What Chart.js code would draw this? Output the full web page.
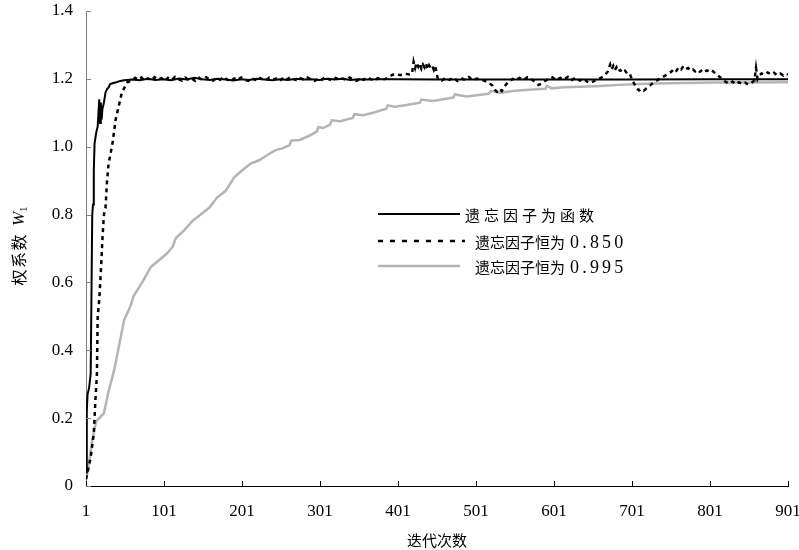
<!DOCTYPE html>
<html>
<head>
<meta charset="utf-8">
<script src="https://cdn.jsdelivr.net/npm/chart.js@4.4.1/dist/chart.umd.min.js"></script>
<style>
  html, body { margin: 0; padding: 0; background: #fff; }
</style>
</head>
<body>
<canvas id="weightChart" width="799" height="550"></canvas>
<script>
// axis ticks
const xTicks = [1, 101, 201, 301, 401, 501, 601, 701, 801, 901];
const xTickLabels = ['1', '101', '201', '301', '401', '501', '601', '701', '801', '901'];
const yTicks = [0, 0.2, 0.4, 0.6, 0.8, 1.0, 1.2, 1.4];
const yTickLabels = ['0', '0.2', '0.4', '0.6', '0.8', '1.0', '1.2', '1.4'];
const xTitle = '迭代次数';
const seriesNames = ['遗忘因子为函数', '遗忘因子恒为 0.850', '遗忘因子恒为 0.995'];

// forgetting factor as a function
const funcIter = [1, 2, 3, 5, 7, 9, 10, 11, 12, 14, 16, 17, 18, 19, 20, 21, 22, 24, 26, 28, 30, 32, 36, 40, 45, 50,
  60, 70, 80, 90, 100, 110, 120, 130, 140, 150, 160, 170, 180, 190, 200, 210, 220, 230, 240, 250, 260, 270, 280,
  290, 300, 310, 320, 330, 340, 350, 360, 380, 400, 450, 500, 600, 700, 800, 901];
const funcW = [0.04, 0.22, 0.27, 0.29, 0.33, 0.80, 0.83, 0.93, 1.01, 1.04, 1.06, 1.10, 1.14, 1.07, 1.13, 1.08, 1.11, 1.13, 1.16, 1.17, 1.175, 1.185, 1.188, 1.19, 1.194, 1.196,
  1.198, 1.196, 1.2, 1.197, 1.199, 1.196, 1.201, 1.198, 1.203, 1.199, 1.197, 1.2, 1.198, 1.195, 1.199, 1.197, 1.2, 1.198, 1.196, 1.199, 1.197, 1.2, 1.198,
  1.199, 1.197, 1.2, 1.198, 1.2, 1.197, 1.199, 1.198, 1.199, 1.199, 1.198, 1.198, 1.198, 1.198, 1.199, 1.199];

// forgetting factor fixed at 0.850
const fixed850Iter = [1, 3, 7, 11, 13, 15, 16, 18, 20, 22, 24, 26, 28, 30, 35, 39, 43, 47, 54, 60,
  64, 68, 72, 76, 80, 85, 89, 93, 98, 102, 106, 111, 115, 119, 124, 128, 132, 137, 141, 146, 150, 155,
  159, 164, 168, 173, 177, 182, 186, 191, 195, 200, 204, 209, 213, 218, 222, 227, 231, 236, 240, 245,
  249, 254, 258, 263, 267, 272, 276, 281, 285, 290, 294, 299, 303, 308, 312, 317, 321, 326, 330, 335,
  339, 344, 348, 353, 357, 362, 366, 371, 375, 380, 385, 390, 394, 398, 404, 410, 416, 419,
  421, 423, 425, 427, 429, 431, 433, 435, 437, 439, 441, 443, 445, 447, 449,
  452, 457, 462, 467, 472, 477, 482, 487, 492, 497, 502, 507, 512, 517, 522, 525, 528, 531, 534, 537,
  540, 544, 548, 552, 557, 562, 567, 572, 577, 581, 585, 589, 594, 599, 604, 609, 614, 619, 624, 629,
  634, 639, 644, 648, 652, 656, 661, 666, 670, 673, 675, 677, 679, 681, 683, 686, 689, 692, 695, 698,
  701, 704, 707, 710, 713, 716, 720, 724, 728, 732, 736, 740, 744, 748, 752, 755, 758, 761, 764, 767,
  770, 773, 776, 779, 782, 785, 788, 791, 794, 797, 800, 803, 806, 810, 814, 818, 822, 826, 830, 834,
  838, 842, 846, 850, 854, 858, 860, 862, 864, 867, 871, 875, 879, 883, 887, 891, 895, 898, 901];
const fixed850W = [0.02, 0.04, 0.085, 0.155, 0.25, 0.33, 0.50, 0.55, 0.63, 0.725, 0.80, 0.82, 0.90, 0.95, 1.01, 1.08, 1.12, 1.16, 1.19, 1.196,
  1.203, 1.197, 1.204, 1.195, 1.201, 1.196, 1.205, 1.198, 1.202, 1.194, 1.203, 1.197, 1.206, 1.199, 1.195, 1.204, 1.198, 1.201, 1.194, 1.203, 1.197, 1.205,
  1.199, 1.195, 1.202, 1.197, 1.206, 1.198, 1.193, 1.201, 1.196, 1.204, 1.198, 1.194, 1.202, 1.197, 1.205, 1.199, 1.195, 1.203, 1.198, 1.201,
  1.194, 1.203, 1.197, 1.205, 1.199, 1.195, 1.202, 1.197, 1.204, 1.198, 1.194, 1.201, 1.197, 1.206, 1.199, 1.195, 1.203, 1.198, 1.201, 1.196,
  1.204, 1.198, 1.194, 1.202, 1.197, 1.205, 1.199, 1.195, 1.202, 1.198, 1.2, 1.206, 1.212, 1.214, 1.211, 1.215, 1.213, 1.216,
  1.25, 1.232, 1.248, 1.236, 1.246, 1.23, 1.242, 1.234, 1.245, 1.228, 1.24, 1.232, 1.238, 1.226, 1.236,
  1.2, 1.195, 1.203, 1.197, 1.204, 1.194, 1.202, 1.197, 1.205, 1.196, 1.201, 1.197, 1.194, 1.19, 1.18, 1.168, 1.162, 1.17, 1.164, 1.176,
  1.185, 1.192, 1.2, 1.196, 1.203, 1.197, 1.205, 1.199, 1.19, 1.182, 1.186, 1.193, 1.2, 1.204, 1.196, 1.203, 1.198, 1.206, 1.197, 1.204,
  1.195, 1.2, 1.191, 1.188, 1.193, 1.198, 1.203, 1.21, 1.222, 1.242, 1.228, 1.238, 1.226, 1.234, 1.222, 1.226, 1.218, 1.224, 1.215, 1.216,
  1.198, 1.185, 1.172, 1.166, 1.17, 1.165, 1.173, 1.18, 1.188, 1.194, 1.2, 1.205, 1.21, 1.216, 1.222, 1.23, 1.224, 1.234, 1.228, 1.237,
  1.229, 1.232, 1.225, 1.228, 1.222, 1.227, 1.221, 1.226, 1.22, 1.225, 1.222, 1.226, 1.22, 1.212, 1.205, 1.196, 1.19, 1.186, 1.192, 1.184,
  1.19, 1.185, 1.189, 1.183, 1.188, 1.195, 1.232, 1.2, 1.21, 1.216, 1.212, 1.219, 1.213, 1.218, 1.211, 1.216, 1.21, 1.215, 1.213];

// forgetting factor fixed at 0.995 (small teeth at the steps)
const fixed995Iter = [1, 3, 5, 9, 14, 18, 24, 30, 37, 43, 50, 52, 58, 62, 73, 84, 95, 105, 112, 116, 127, 137, 148, 159, 169,
  180, 191, 201, 212, 223, 233, 244, 253, 262, 264, 275, 288, 297, 299, 305, 314, 316, 327, 343, 345, 356, 369, 386, 388, 397, 412, 429, 431,
  446, 459, 472, 474, 489, 502, 517, 520, 532, 548, 565, 583, 590, 592, 598, 613, 635, 660, 690, 728, 770, 805, 850, 901];
const fixed995W = [0.02, 0.04, 0.07, 0.135, 0.19, 0.20, 0.215, 0.28, 0.34, 0.41, 0.49, 0.50, 0.53, 0.56, 0.60, 0.645, 0.666, 0.686, 0.705, 0.73, 0.754, 0.78, 0.80, 0.82, 0.85,
  0.87, 0.91, 0.93, 0.95, 0.96, 0.975, 0.99, 0.995, 1.005, 1.018, 1.02, 1.033, 1.045, 1.058, 1.055, 1.065, 1.078, 1.075, 1.085, 1.096, 1.093, 1.10, 1.112, 1.122, 1.118, 1.123, 1.13, 1.139,
  1.135, 1.14, 1.145, 1.154, 1.148, 1.152, 1.156, 1.164, 1.159, 1.164, 1.167, 1.17, 1.171, 1.18, 1.172, 1.175, 1.177, 1.179, 1.183, 1.186, 1.188, 1.189, 1.189, 1.19];

function toPoints(xs, ys) {
    return xs.map((v, i) => ({ x: v, y: ys[i] }));
}

const serifFont = '"Liberation Serif", serif';
const cjkFont = '"Noto Sans CJK SC", sans-serif';

const datasets = [
    { label: seriesNames[0], data: toPoints(funcIter, funcW), borderColor: '#000', borderWidth: 2 },
    { label: seriesNames[1], data: toPoints(fixed850Iter, fixed850W), borderColor: '#000', borderWidth: 2.5, borderDash: [4, 4] },
    { label: seriesNames[2], data: toPoints(fixed995Iter, fixed995W), borderColor: '#b4b4b4', borderWidth: 2.5 }
];

// draws text one char at a time with a fixed extra gap, returns the width used
function spacedText(ctx, text, x, y, gap) {
    let cx = x;
    for (const ch of text) {
        ctx.fillText(ch, cx, y);
        cx += ctx.measureText(ch).width + gap;
    }
    return cx - x;
}

// tick marks, axis titles and the legend box inside the plot
const decorPlugin = {
    id: 'decor',
    afterDraw(chart) {
        const { ctx, chartArea: area } = chart;
        const xs = chart.scales.x, ys = chart.scales.y;
        ctx.save();
        ctx.lineWidth = 1;
        ctx.strokeStyle = '#7f7f7f';
        yTicks.forEach(v => {
            const py = Math.round(ys.getPixelForValue(v)) + 0.5;
            ctx.beginPath(); ctx.moveTo(area.left, py); ctx.lineTo(area.left + 5, py); ctx.stroke();
        });
        ctx.strokeStyle = '#000';
        xTicks.forEach(v => {
            const px = Math.round(xs.getPixelForValue(v)) + 0.5;
            ctx.beginPath(); ctx.moveTo(px, area.bottom); ctx.lineTo(px, area.bottom - 5); ctx.stroke();
        });

        ctx.fillStyle = '#000';
        ctx.textBaseline = 'middle';

        // x title
        ctx.font = '15px ' + cjkFont;
        ctx.textAlign = 'center';
        ctx.fillText(xTitle, (area.left + area.right) / 2, 540);

        // y title: 权系数 W1
        ctx.save();
        ctx.translate(19, 246);
        ctx.rotate(-Math.PI / 2);
        ctx.textAlign = 'left';
        ctx.font = '16px ' + cjkFont;
        const wA = 3 * (ctx.measureText('权').width + 1.5);
        ctx.font = 'italic 17px ' + serifFont;
        const wB = ctx.measureText('W').width;
        ctx.font = '11px ' + serifFont;
        const wC = ctx.measureText('1').width;
        const gapW = 7;
        let sx = -(wA + gapW + wB + wC) / 2;
        ctx.font = '16px ' + cjkFont;
        spacedText(ctx, '权系数', sx, 0, 1.5);
        sx += wA + gapW;
        ctx.font = 'italic 17px ' + serifFont;
        ctx.fillText('W', sx, 1);
        sx += wB;
        ctx.font = '11px ' + serifFont;
        ctx.fillText('1', sx, 5);
        ctx.restore();

        // legend
        const rows = [
            { y: 214, x0: 378, x1: 460, tx: 465, gap: 4, ds: datasets[0] },
            { y: 241, x0: 378, x1: 465, tx: 475, gap: 0, ds: datasets[1] },
            { y: 266, x0: 378, x1: 460, tx: 475, gap: 0, ds: datasets[2] }
        ];
        rows.forEach((r, i) => {
            ctx.beginPath();
            ctx.strokeStyle = r.ds.borderColor;
            ctx.lineWidth = i === 0 ? 2 : 2.5;
            ctx.setLineDash(r.ds.borderDash ? [5, 7] : []);
            ctx.moveTo(r.x0, r.y); ctx.lineTo(r.x1, r.y); ctx.stroke();
            ctx.setLineDash([]);
            const name = seriesNames[i];
            const sp = name.indexOf(' ');
            ctx.textAlign = 'left';
            if (sp < 0) {
                ctx.font = '15px ' + cjkFont;
                spacedText(ctx, name, r.tx, r.y + 1, r.gap);
            } else {
                const cn = name.slice(0, sp);
                const num = name.slice(sp + 1);
                ctx.font = '15px ' + cjkFont;
                const w = spacedText(ctx, cn, r.tx, r.y + 1, r.gap);
                ctx.font = '18px ' + serifFont;
                spacedText(ctx, num, r.tx + w + 5, r.y + 2, 3.2);
            }
        });
        ctx.restore();
    }
};

const ctx = document.getElementById('weightChart').getContext('2d');
const weightChart = new Chart(ctx, {
    type: 'line',
    data: { datasets: datasets },
    options: {
        responsive: false,
        animation: false,
        layout: { padding: { top: 11, right: 11, left: 0, bottom: 0 } },
        elements: { point: { radius: 0 }, line: { tension: 0 } },
        plugins: { legend: { display: false }, tooltip: { enabled: false } },
        scales: {
            x: {
                type: 'linear',
                min: 1,
                max: 901,
                afterBuildTicks: s => { s.ticks = xTicks.map(v => ({ value: v })); },
                afterFit: s => { s.height = 64; s.paddingLeft = 0; s.paddingRight = 0; },
                grid: { display: false, drawTicks: false },
                border: { display: true, color: '#000', width: 1 },
                ticks: {
                    padding: 15,
                    maxRotation: 0,
                    color: '#000',
                    font: { family: serifFont, size: 17 },
                    callback: (v, i) => xTickLabels[i]
                }
            },
            y: {
                min: 0,
                max: 1.4,
                afterBuildTicks: s => { s.ticks = yTicks.map(v => ({ value: v })); },
                afterFit: s => { s.width = 86; s.paddingTop = 0; s.paddingBottom = 0; },
                grid: { display: false, drawTicks: false },
                border: { display: true, color: '#7f7f7f', width: 1 },
                ticks: {
                    padding: 13,
                    color: '#000',
                    font: { family: serifFont, size: 17 },
                    callback: (v, i) => yTickLabels[i]
                }
            }
        }
    },
    plugins: [decorPlugin]
});
</script>
</body>
</html>
